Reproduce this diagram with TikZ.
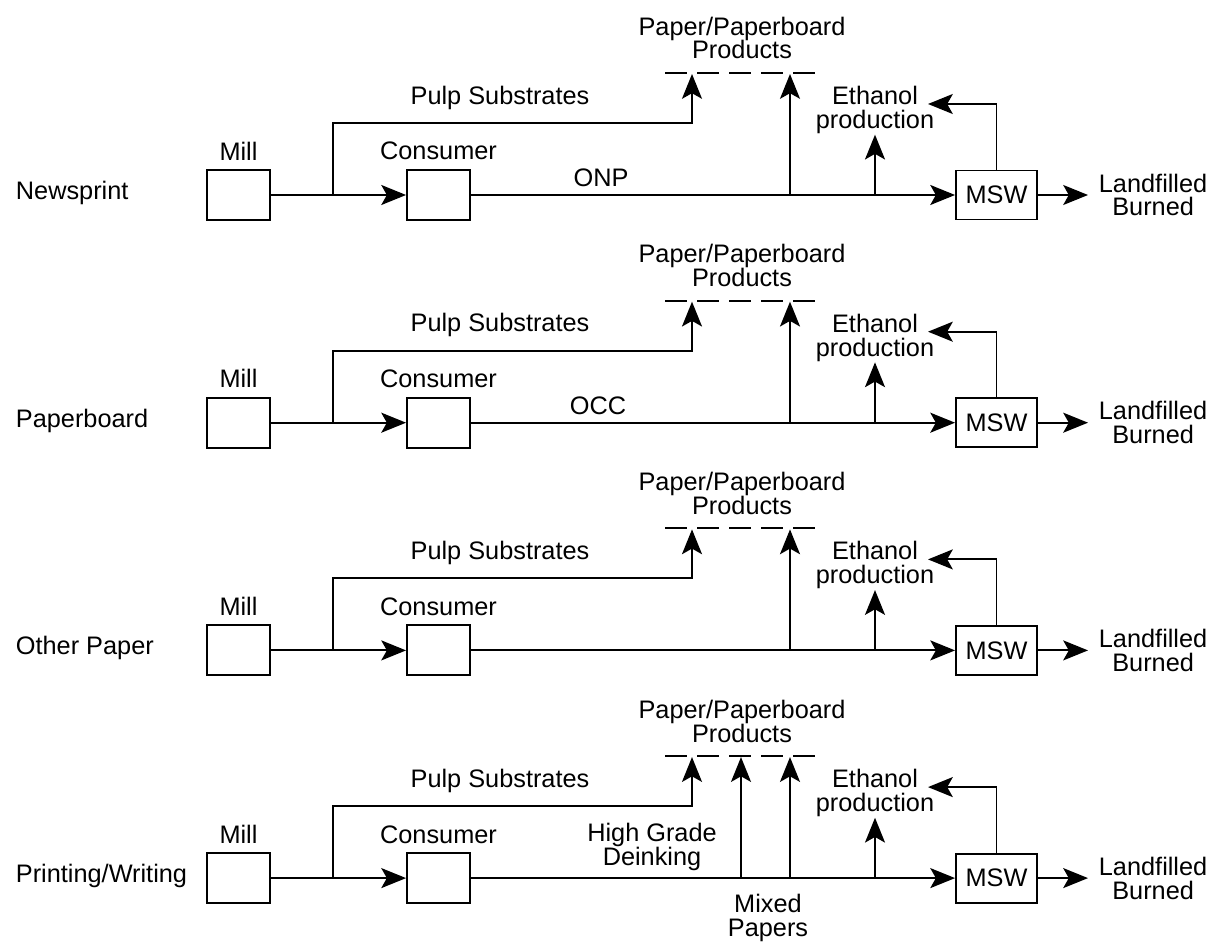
\documentclass[tikz,border=0pt]{standalone}
\usepackage{fontspec}
\setmainfont{Liberation Sans}
\usetikzlibrary{arrows.meta, positioning}

\begin{document}
\begin{tikzpicture}[
    x=0.025cm, y=-0.025cm,
    line width=1.3pt,
    font=\fontsize{18pt}{17pt}\selectfont,
    box/.style={draw, inner sep=0pt, minimum width=1.575cm, minimum height=1.25cm},
    txt/.style={inner sep=0pt, align=center},
    cut/.style={dash pattern=on 0.55cm off 0.25cm},
    >={Stealth[length=0.62cm, width=0.5cm, inset=0.14cm]}
  ]
  \useasboundingbox (0,0) rectangle (1219,945);
  \foreach \r/\kind in {1/Newsprint, 2/Paperboard, 3/{Other Paper}, 4/{Printing/Writing}} {
    \pgfmathsetmacro{\Y}{195+227.7*(\r-1)}
    \node[txt, anchor=west] (kind\r) at (15,\Y-2) {\kind};
    \node[box] (millBox\r) at (238.5,\Y) {};
    \node[txt, above=0.2cm of millBox\r] (millText\r) {Mill};
    \node[box] (consBox\r) at (438.5,\Y) {};
    \node[txt, above=0.2cm of consBox\r] (consText\r) {Consumer};
    \node[box, minimum width=2.025cm, minimum height=1.225cm] (mswBox\r) at (996.5,\Y) {MSW};
    \node[txt, anchor=west, inner xsep=0.25cm] (fateText\r) at (1088,\Y) {Landfilled\\Burned};
    \node[txt] (pulpText\r) at (500,\Y-97.5) {Pulp Substrates};
    \node[txt] (prodText\r) at (742,\Y-157) {Paper/Paperboard\\Products};
    \node[txt] (ethText\r) at (875,\Y-85) {Ethanol\\production};
    \coordinate (split\r) at (333,\Y);
    \coordinate (pulpBend\r) at (692,\Y-72);
    \coordinate (pulpTip\r) at (692,\Y-121);
    \coordinate (recFoot\r) at (790,\Y);
    \coordinate (recTip\r) at (790,\Y-121);
    \coordinate (ethFoot\r) at (875,\Y);
    \coordinate (ethTip\r) at (928,\Y-91);
    \coordinate (prodLeft\r) at (665,\Y-122);
    \coordinate (prodRight\r) at (815,\Y-122);
    \draw[cut] (prodLeft\r) -- (prodRight\r);
    \draw[->] (millBox\r) -- (consBox\r);
    \draw[->] (split\r) |- (pulpBend\r) -- (pulpTip\r);
    \draw[->] (consBox\r) -- (mswBox\r);
    \draw[->] (recFoot\r) -- (recTip\r);
    \draw[->] (ethFoot\r) -- (ethText\r);
    \draw[->] (mswBox\r) |- (ethTip\r);
    \draw[->] (mswBox\r) -- (fateText\r);
  }
  \node[txt] (onpText) at (601,178) {ONP};
  \node[txt] (occText) at (598,405.7) {OCC};
  \coordinate (deinkFoot) at (741,878.1);
  \coordinate (deinkTip) at (741,757.1);
  \draw[->] (deinkFoot) -- (deinkTip);
  \node[txt] (deinkText) at (652,847.1) {High Grade\\Deinking};
  \node[txt] (mixedText) at (768,918.1) {Mixed\\Papers};
\end{tikzpicture}
\end{document}
